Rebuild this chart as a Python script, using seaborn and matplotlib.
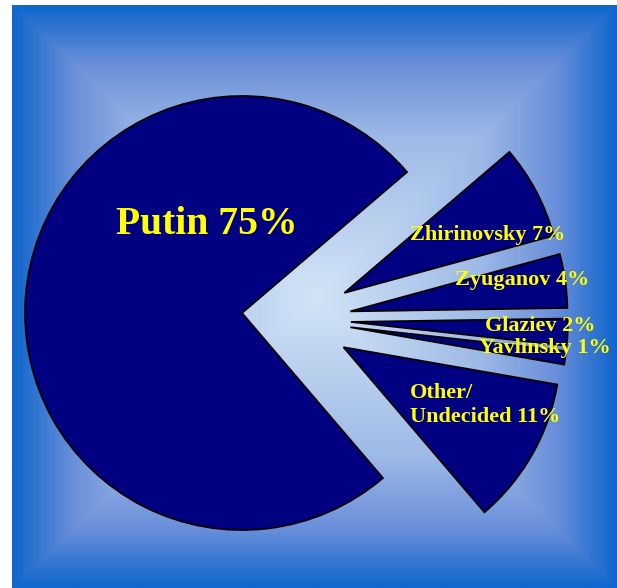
import numpy as np
import matplotlib
matplotlib.use("Agg")
import matplotlib.pyplot as plt
import seaborn as sns
from matplotlib.colors import LinearSegmentedColormap

# ---- data ----
candidates = ["Zhirinovsky", "Zyuganov", "Glaziev", "Yavlinsky", "Other/\nUndecided", "Putin"]
shares = [7, 4, 2, 1, 11, 75]

sns.set_theme(style="white")
plt.rcParams['font.family'] = ['Liberation Serif', 'DejaVu Serif']

W, H = 617, 588
fig = plt.figure(figsize=(W / 100, H / 100), dpi=100)
fig.patch.set_facecolor('white')

# ---- background panel with rectangular gradient ----
bg = fig.add_axes([12 / W, 0, (W - 12) / W, (H - 5) / H])
u = np.linspace(-1, 1, 400)
v = np.linspace(-1, 1, 400)
U, V = np.meshgrid(u, v)
T = np.maximum(np.abs(U), np.abs(V))
cmap = LinearSegmentedColormap.from_list(
    "bg", [(0.0, "#d2e4f6"), (0.55, "#9db9e6"), (0.8, "#6a8fda"), (1.0, "#1066cc")])
bg.imshow(T, cmap=cmap, aspect='auto', interpolation='bilinear', vmin=0, vmax=1)
bg.axis('off')

# ---- pie axes ----
R = 217.0
CX, CY = 242.0, 313.0


def px(x, y):
    return (x - CX) / R, (CY - y) / R


ax = fig.add_axes([0, 0, 1, 1])
ax.patch.set_alpha(0)
navy = '#000080'
wprops = dict(edgecolor='black', linewidth=1.3)

w1, _ = ax.pie(shares, colors=[navy] * len(shares), startangle=40.5,
               counterclock=False, radius=1, center=(0, 0), wedgeprops=wprops)
for w in w1[:-1]:
    w.set_visible(False)

explode = [0.26] * (len(shares) - 1) + [0]
w2, _ = ax.pie(shares, colors=[navy] * len(shares), startangle=40.5,
               counterclock=False, radius=1, center=(0.242, -0.029),
               explode=explode, wedgeprops=wprops)
w2[-1].set_visible(False)

x0, _ = px(0, 0)
x1, _ = px(W, 0)
_, y1 = px(0, 0)
_, y0 = px(0, H)
ax.set_xlim(x0, x1)
ax.set_ylim(y0, y1)
ax.set_aspect('auto')
ax.axis('off')

# ---- labels ----
yellow = '#ffff00'
label_px = [(488, 235), (522, 280), (540, 326), (545, 348), (410, 405), (207, 225)]
for name, s, (lx, ly) in zip(candidates, shares, label_px):
    txt = f"{name} {s}%"
    x, y = px(lx, ly)
    if name == "Putin":
        ax.text(x, y, txt, color=yellow, fontsize=28.5, fontweight='bold',
                ha='center', va='center')
    elif name.startswith("Other"):
        ax.text(x, y, txt, color=yellow, fontsize=16, fontweight='bold',
                ha='left', va='center', multialignment='left', linespacing=1.2)
    else:
        ax.text(x, y, txt, color=yellow, fontsize=16, fontweight='bold',
                ha='center', va='center')

fig.savefig("out.png", dpi=100)
